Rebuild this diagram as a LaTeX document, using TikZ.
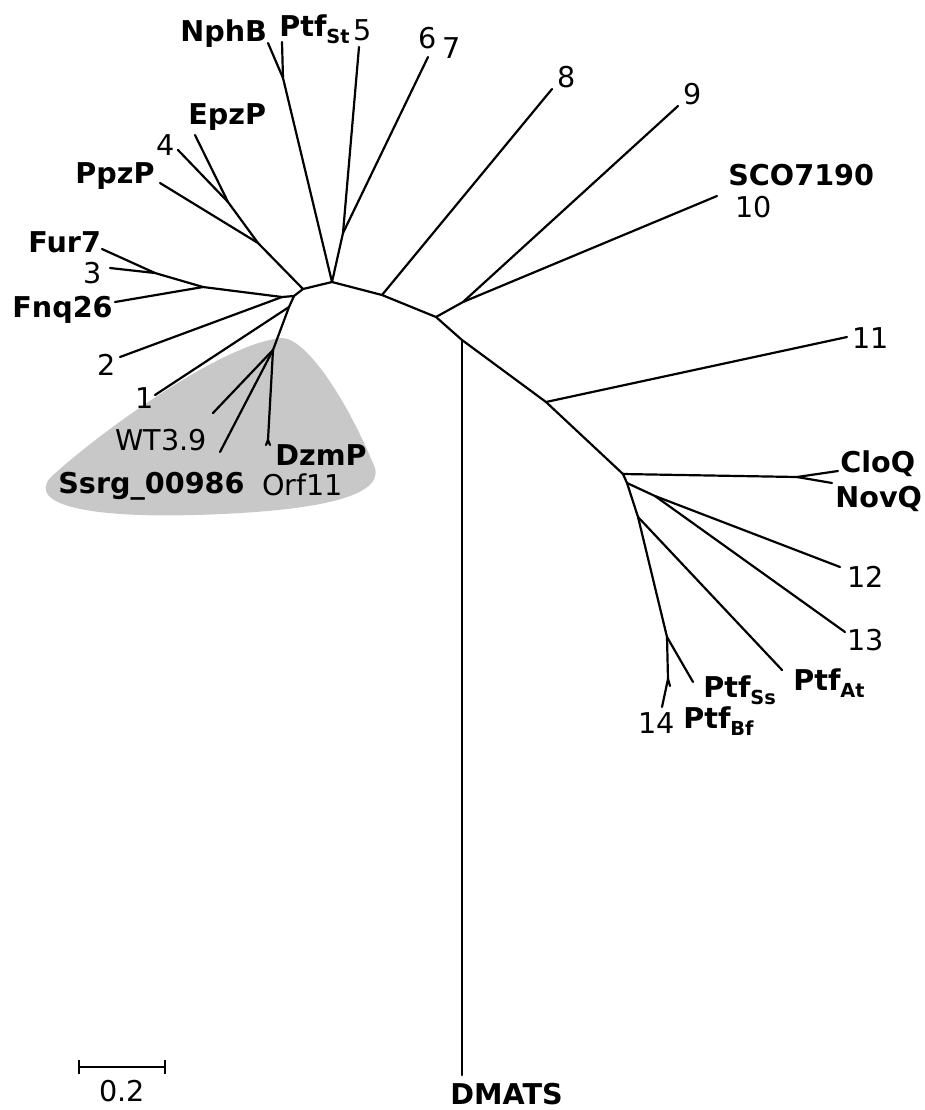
\documentclass[tikz,border=0pt]{standalone}
\usepackage{fontspec}
\setmainfont{DejaVu Sans}
\usepackage{tikz}
\usetikzlibrary{arrows.meta,positioning,calc}
\definecolor{cladegray}{HTML}{C8C8C8}
\newcommand{\lowtxt}[1]{\raisebox{-4pt}{\fontsize{11}{11}\selectfont #1}}

\begin{document}
\begin{tikzpicture}[
    x=0.02cm,y=-0.02cm,
    br/.style    = {line width=1.25pt,line cap=round,line join=round},
    lab/.style   = {inner sep=0pt,anchor=base west,font=\fontsize{16.3}{18}\selectfont},
    blab/.style  = {lab,font=\fontsize{16.3}{18}\selectfont\bfseries},
    clade/.style = {fill=cladegray,draw=none},
    bar/.style   = {line width=1.25pt,{Bar[width=8pt]}-{Bar[width=8pt]}},
  ]

  \useasboundingbox (0,0) rectangle (925,1110);

  % shaded clade
  \fill[clade] (282,338) .. controls (305,338) and (345,395) .. (375,468)
     .. controls (384,500) and (300,512) .. (195,515)
     .. controls (90,518) and (28,505) .. (50,478)
     .. controls (90,440) and (220,343) .. (282,338);

  % inner nodes
  \coordinate (nA)    at (332,282);
  \coordinate (nL1)   at (303,289);
  \coordinate (nL2)   at (294,296);
  \coordinate (nLeft) at (282,297);
  \coordinate (nF1)   at (203,287);
  \coordinate (nF2)   at (155,273);
  \coordinate (nUL)   at (258,243);
  \coordinate (nUL2)  at (228,202);
  \coordinate (nOne)  at (289,307);
  \coordinate (nCl)   at (273,350);
  \coordinate (nDz)   at (268,440);
  \coordinate (nNP)   at (283,78);
  \coordinate (n56)   at (343,233);
  \coordinate (n8)    at (382,295);
  \coordinate (n910)  at (436,317);
  \coordinate (n9)    at (463,302);
  \coordinate (nD)    at (462,340);
  \coordinate (n11)   at (546,402);
  \coordinate (nC)    at (623,474);
  \coordinate (nP0)   at (627,483);
  \coordinate (nCN)   at (797,477);
  \coordinate (n1213) at (655,496);
  \coordinate (nAt)   at (638,517);
  \coordinate (nSs)   at (667,637);
  \coordinate (n14)   at (668,679);

  % leaves
  \coordinate (tNphB)  at (268,43);
  \coordinate (tPtfSt) at (282,42);
  \coordinate (t5)     at (359,47);
  \coordinate (t67)    at (428,57);
  \coordinate (t8)     at (552,89);
  \coordinate (t9)     at (678,106);
  \coordinate (t10)    at (717,196);
  \coordinate (t11)    at (847,337);
  \coordinate (tCloQ)  at (838,471);
  \coordinate (tNovQ)  at (832,483);
  \coordinate (t12)    at (840,567);
  \coordinate (t13)    at (845,632);
  \coordinate (tAt)    at (782,670);
  \coordinate (tSs)    at (693,682);
  \coordinate (t14)    at (662,707);
  \coordinate (tBf)    at (670,686);
  \coordinate (tDMATS) at (462,1075);
  \coordinate (tEpzP)  at (195,135);
  \coordinate (t4)     at (178,150);
  \coordinate (tPpzP)  at (160,183);
  \coordinate (tFur7)  at (102,249);
  \coordinate (t3)     at (110,268);
  \coordinate (tFnq26) at (115,302);
  \coordinate (t2)     at (120,357);
  \coordinate (t1)     at (155,395);
  \coordinate (tWT)    at (213,413);
  \coordinate (tSsrg)  at (220,452);
  \coordinate (tDzmP)  at (266,445);
  \coordinate (tOrf11) at (270,445);

  % backbone
  \draw[br] (nLeft) -- (nL2) -- (nL1) -- (nA) -- (n8) -- (n910) -- (nD) -- (n11)
            -- (nC) -- (nP0);

  % left part
  \draw[br] (nL1) -- (nUL) -- (nUL2) -- (tEpzP);
  \draw[br] (nUL2) -- (t4);
  \draw[br] (nUL) -- (tPpzP);
  \draw[br] (nLeft) -- (nF1) -- (nF2) -- (tFur7);
  \draw[br] (nF2) -- (t3);
  \draw[br] (nF1) -- (tFnq26);
  \draw[br] (nLeft) -- (t2);
  \draw[br] (nL2) -- (nOne) -- (nCl) -- (nDz) -- (tDzmP);
  \draw[br] (nDz) -- (tOrf11);
  \draw[br] (nOne) -- (t1);
  \draw[br] (nCl) -- (tWT);
  \draw[br] (nCl) -- (tSsrg);

  % top part
  \draw[br] (nA) -- (nNP) -- (tNphB);
  \draw[br] (nNP) -- (tPtfSt);
  \draw[br] (nA) -- (n56) -- (t5);
  \draw[br] (n56) -- (t67);
  \draw[br] (n8) -- (t8);
  \draw[br] (n910) -- (n9) -- (t10);
  \draw[br] (n9) -- (t9);

  % right part
  \draw[br] (nD) -- (tDMATS);
  \draw[br] (n11) -- (t11);
  \draw[br] (nC) -- (nCN) -- (tCloQ);
  \draw[br] (nCN) -- (tNovQ);
  \draw[br] (nP0) -- (n1213) -- (t12);
  \draw[br] (n1213) -- (t13);
  \draw[br] (nP0) -- (nAt) -- (nSs) -- (n14) -- (t14);
  \draw[br] (n14) -- (tBf);
  \draw[br] (nAt) -- (tAt);
  \draw[br] (nSs) -- (tSs);

  % labels
  \node[blab] (lNphB)  at (180,41)  {NphB};
  \node[blab] (lPtfSt) at (279,36)  {Ptf\lowtxt{St}};
  \node[lab]  (l5)     at (353,40)  {5};
  \node[lab]  (l6)     at (418,48)  {6};
  \node[lab]  (l7)     at (442,58)  {7};
  \node[lab]  (l8)     at (557,87)  {8};
  \node[lab]  (l9)     at (683,104) {9};
  \node[blab] (lSCO)   at (728,185) {SCO7190};
  \node[lab]  (l10)    at (735,217) {10};
  \node[lab]  (l11)    at (852,348) {11};
  \node[blab] (lCloQ)  at (840,472) {CloQ};
  \node[blab] (lNovQ)  at (835,507) {NovQ};
  \node[lab]  (l12)    at (847,587) {12};
  \node[lab]  (l13)    at (847,650) {13};
  \node[blab] (lPtfAt) at (793,690) {Ptf\lowtxt{At}};
  \node[blab] (lPtfSs) at (703,697) {Ptf\lowtxt{Ss}};
  \node[lab]  (l14)    at (638,733) {14};
  \node[blab] (lPtfBf) at (683,728) {Ptf\lowtxt{Bf}};
  \node[blab] (lDMATS) at (450,1104) {DMATS};
  \node[blab] (lEpzP)  at (188,124) {EpzP};
  \node[lab]  (l4)     at (156,155) {4};
  \node[blab] (lPpzP)  at (75,183)  {PpzP};
  \node[blab] (lFur7)  at (28,252)  {Fur7};
  \node[lab]  (l3)     at (83,283)  {3};
  \node[blab] (lFnq26) at (12,317)  {Fnq26};
  \node[lab]  (l2)     at (97,375)  {2};
  \node[lab]  (l1)     at (135,408) {1};
  \node[lab]  (lWT)    at (115,450) {WT3.9};
  \node[blab] (lSsrg)  at (58,493)  {Ssrg\_00986};
  \node[blab] (lDzmP)  at (275,465) {DzmP};
  \node[lab]  (lOrf11) at (262,495) {Orf11};

  % scale bar
  \coordinate (sbL) at (78,1067);
  \coordinate (sbR) at (166,1067);
  \draw[bar] (sbL) -- (sbR);
  \node[lab,anchor=base] (lScale) at (122,1101) {0.2};

\end{tikzpicture}
\end{document}
